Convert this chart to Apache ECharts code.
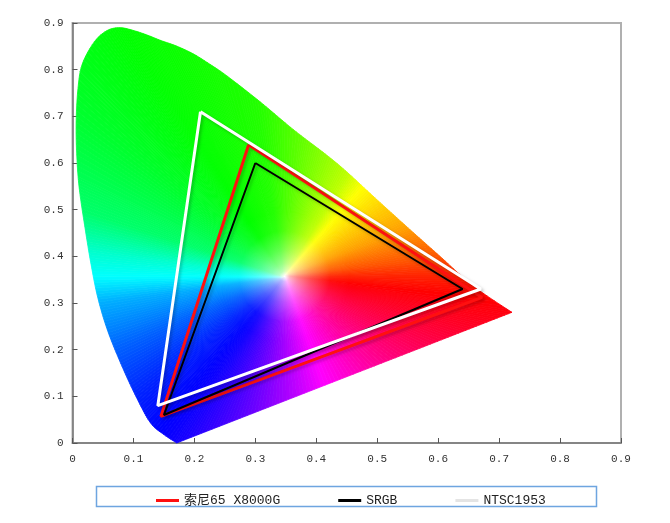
<!DOCTYPE html>
<html><head><meta charset="utf-8">
<script src="https://cdn.jsdelivr.net/npm/echarts@6/dist/echarts.min.js"></script>
<style>html,body{margin:0;padding:0;background:#fff}#c{width:670px;height:523px}</style>
</head><body><div id="c"></div>
<script>
// Spectral locus boundary, starting at the bottom tip
const locusX = [0.171,0.150,0.128,0.104,0.079,0.057,0.041,0.030,0.021,0.011,0.007,0.006,0.009,0.016,0.036,0.057,0.078,0.100,0.123,0.144,0.170,0.198,0.225,0.253,0.308,0.362,0.417,0.450,0.494,0.548,0.603,0.658,0.721];
const locusY = [0.000,0.018,0.043,0.100,0.171,0.243,0.314,0.386,0.457,0.546,0.617,0.688,0.760,0.812,0.860,0.884,0.890,0.884,0.874,0.863,0.851,0.834,0.812,0.787,0.731,0.672,0.617,0.581,0.528,0.464,0.400,0.336,0.280];
const whitePoint = [0.348, 0.357];

// Gamut triangles
const seriesNames = ['索尼65 X8000G', 'SRGB', 'NTSC1953'];
const sonyX = [0.289, 0.672, 0.145];
const sonyY = [0.639, 0.312, 0.057];
const srgbX = [0.30, 0.64, 0.15];
const srgbY = [0.60, 0.33, 0.06];
const ntscX = [0.21, 0.67, 0.14];
const ntscY = [0.71, 0.33, 0.08];

const tickValues = [0, 0.1, 0.2, 0.3, 0.4, 0.5, 0.6, 0.7, 0.8, 0.9];

// styling: hue by angle around the white point (screen degrees -> hue)
const hueMap = [[0,8],[7,20],[22,38],[49,60],[58,75],[86,100],[99,112],[123,120],[142,131],[162,145],[168,158],[173,169],[180,180],[188,199],[203,217],[219,232],[237,244],[254,262],[290,300],[322,330],[352,358],[360,368]];
function hueAt(t){
  for (let i=0;i<hueMap.length-1;i++){
    const a=hueMap[i], b=hueMap[i+1];
    if (t>=a[0] && t<=b[0]) return (a[1]+(b[1]-a[1])*(t-a[0])/(b[0]-a[0]))%360;
  }
  return 0;
}
function hsv(h,s,v){
  const f=(n)=>{const k=(n+h/60)%6;return v-v*s*Math.max(0,Math.min(k,4-k,1));};
  return 'rgb('+Math.round(f(5)*255)+','+Math.round(f(3)*255)+','+Math.round(f(1)*255)+')';
}
function stops(h){
  return [0,0.08,0.2,0.4,0.7,1].map(t=>({offset:t,color:hsv(h,Math.pow(Math.min(1,t*1.3),0.55),1)}));
}
function tri(xs, ys){ const d=xs.map((x,i)=>[x,ys[i]]); d.push([xs[0],ys[0]]); return d; }
// Catmull-Rom smoothing of the pixel outline (rendering only)
function smoothChain(p, steps){
  const out=[]; const n=p.length;
  for(let i=0;i<n-1;i++){
    const p0=p[Math.max(0,i-1)], p1=p[i], p2=p[i+1], p3=p[Math.min(n-1,i+2)];
    for(let s=0;s<steps;s++){
      const t=s/steps, t2=t*t, t3=t2*t;
      const f=(a,b,c,d)=>0.5*((2*b)+(-a+c)*t+(2*a-5*b+4*c-d)*t2+(-a+3*b-3*c+d)*t3);
      out.push([f(p0[0],p1[0],p2[0],p3[0]), f(p0[1],p1[1],p2[1],p3[1])]);
    }
  }
  out.push(p[n-1]);
  return out;
}

const chart = echarts.init(document.getElementById('c'), null, {renderer:'canvas'});
const lineShadow = {shadowColor:'rgba(0,0,0,0.22)', shadowBlur:3, shadowOffsetX:2, shadowOffsetY:2};
chart.setOption({
  animation:false,
  grid:{left:72.5, right:49, top:23, bottom:80, containLabel:false, outerBoundsMode:'none', show:true, borderColor:'#b0b0b0', borderWidth:2},
  xAxis:{type:'value', min:0, max:0.9, interval:0.1,
    axisLine:{show:true, onZero:false, lineStyle:{color:'#777', width:1.5}},
    axisTick:{show:true, inside:true, length:5, lineStyle:{color:'#555'}},
    splitLine:{show:false},
    axisLabel:{fontFamily:'Liberation Mono', fontSize:11, color:'#333', margin:11, formatter:v=>v===0?'0':v.toFixed(1)}},
  yAxis:{type:'value', min:0, max:0.9, interval:0.1,
    axisLine:{show:true, onZero:false, lineStyle:{color:'#777', width:1.5}},
    axisTick:{show:true, inside:true, length:5, lineStyle:{color:'#555'}},
    splitLine:{show:false},
    axisLabel:{fontFamily:'Liberation Mono', fontSize:11, color:'#333', margin:9, formatter:v=>v===0?'0':v.toFixed(1)}},
  legend:{left:151, top:489, icon:'rect', itemWidth:23, itemHeight:3, itemGap:58,
    textStyle:{fontFamily:'Liberation Mono, Noto Sans CJK SC', fontSize:13, color:'#222'},
    data:[{name:seriesNames[0]},{name:seriesNames[1]},{name:seriesNames[2], itemStyle:{color:'#e4e4e4'}}]},
  graphic:[{type:'rect', shape:{x:96.5,y:486.5,width:500,height:20}, style:{fill:'none', stroke:'#6ea5e0', lineWidth:1.5}}],
  series:[
    {type:'custom', name:'locus', z:1, silent:true, data:[[whitePoint[0], whitePoint[1]]],
      renderItem:function(params, api){
        const c = api.coord(whitePoint);
        const pts = smoothChain(locusX.map((x,i)=>api.coord([x, locusY[i]])), 6);
        const ang = p=>{let a=Math.atan2(c[1]-p[1], p[0]-c[0])*180/Math.PI; return a<0?a+360:a;};
        const children=[];
        const n=pts.length;
        for(let i=0;i<n;i++){
          const a=pts[i], b=pts[(i+1)%n];
          let d=ang(b)-ang(a); if(d>180)d-=360; if(d<-180)d+=360;
          const m=Math.max(1,Math.ceil(Math.abs(d)/1.2));
          for(let k=0;k<m;k++){
            const t1=k/m, t2=(k+1)/m, tm=(k+0.5)/m;
            const p1=[a[0]+(b[0]-a[0])*t1, a[1]+(b[1]-a[1])*t1];
            const p2=[a[0]+(b[0]-a[0])*t2, a[1]+(b[1]-a[1])*t2];
            const pm=[a[0]+(b[0]-a[0])*tm, a[1]+(b[1]-a[1])*tm];
            const g={type:'radial', x:c[0], y:c[1], r:65, global:true, colorStops:stops(hueAt(ang(pm)))};
            children.push({type:'polygon', shape:{points:[c,p1,p2]}, style:{fill:g, stroke:g, lineWidth:0.8}});
          }
        }
        return {type:'group', children};
      }},
    {type:'line', name:seriesNames[0], z:3, data:tri(sonyX,sonyY), showSymbol:false, color:'#ff1010',
      lineStyle:Object.assign({color:'#ff1010', width:3}, lineShadow)},
    {type:'line', name:seriesNames[1], z:4, data:tri(srgbX,srgbY), showSymbol:false, color:'#000',
      lineStyle:Object.assign({color:'#000', width:2}, lineShadow)},
    {type:'line', name:seriesNames[2], z:5, data:tri(ntscX,ntscY), showSymbol:false, color:'#fff',
      lineStyle:Object.assign({color:'#fff', width:3}, lineShadow)}
  ]
});
</script></body></html>
